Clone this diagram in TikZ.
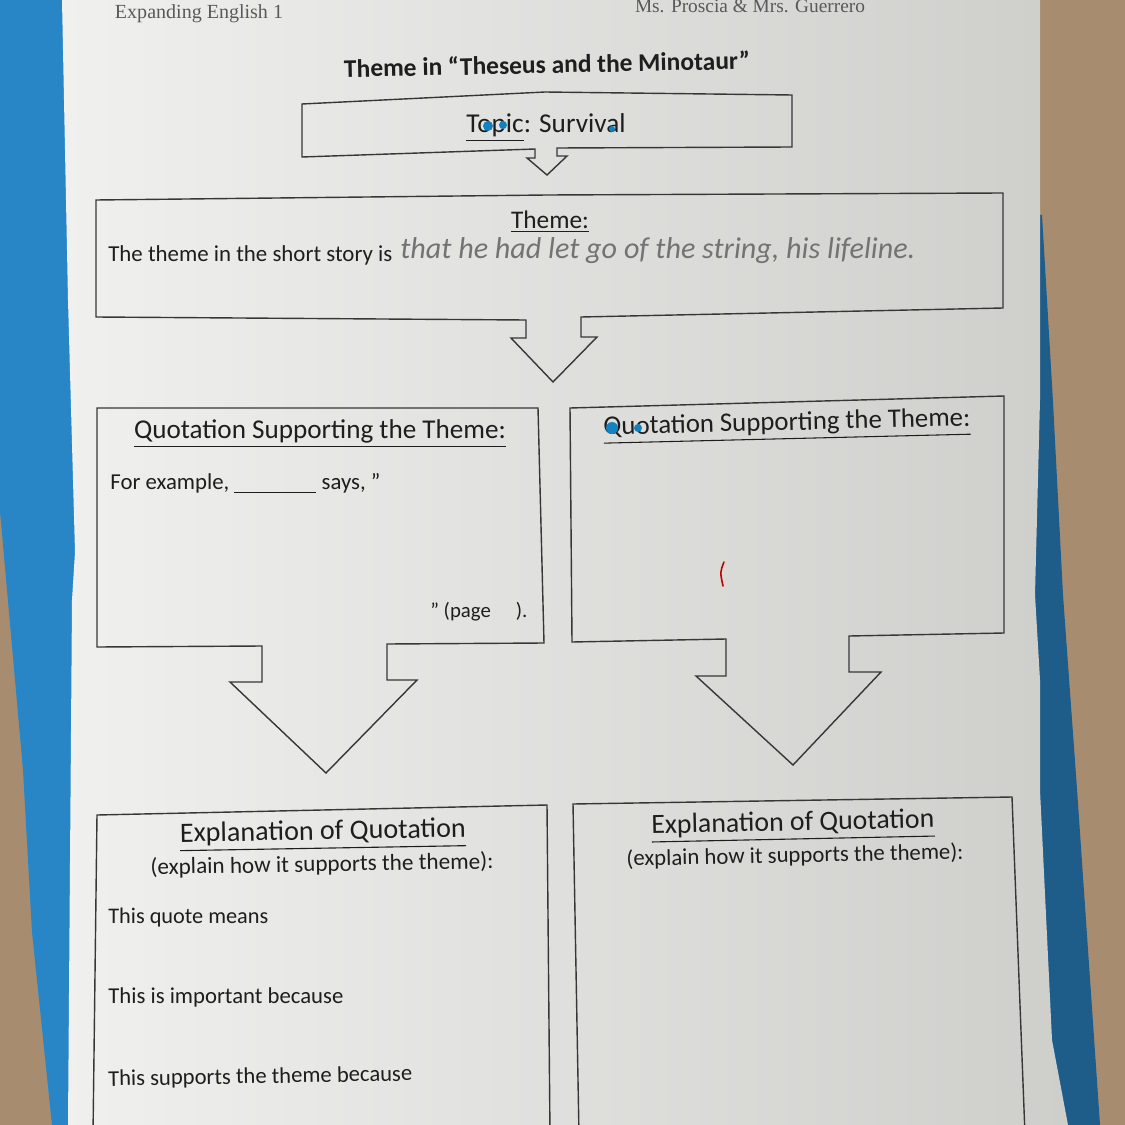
\documentclass[tikz,border=0pt]{standalone}
\usepackage{fontspec}
\usepackage{graphicx}
\setmainfont{Carlito}
\newfontfamily\hdrserif{Liberation Serif}
\newlength\pxu
\setlength\pxu{0.02cm}
\newcommand\fitw[2]{\resizebox{#1\pxu}{!}{#2}}
\definecolor{fur}{RGB}{168,140,112}
\definecolor{clothL}{RGB}{40,134,198}
\definecolor{clothR}{RGB}{30,92,138}
\definecolor{paperL}{RGB}{240,240,238}
\definecolor{paperR}{RGB}{206,206,203}
\definecolor{linec}{RGB}{55,55,55}
\definecolor{inkc}{RGB}{30,30,30}
\definecolor{pencil}{RGB}{115,115,115}
\definecolor{pen}{RGB}{20,130,190}
\tikzset{
  frame/.style={draw=linec, line width=0.8pt, line join=miter},
  txt/.style={inner sep=0pt, text=inkc},
  hdr/.style={txt, anchor=center},
  lbl/.style={txt, anchor=base west},
  dot/.style={fill=pen}
}
\begin{document}
\begin{tikzpicture}[x=0.02cm, y=-0.02cm]
\useasboundingbox (0,0) rectangle (1125,1125);
\clip (0,0) rectangle (1125,1125);
% background
\fill[fur] (0,0) rectangle (1125,1125);
\fill[clothL] (0,0) -- (80,0) -- (80,1125) -- (52,1125) -- (32,932) -- (23,770) -- (0,511) -- cycle;
\fill[clothR] (1030,215) -- (1042,215) -- (1053,402) -- (1063,595) -- (1077,789) -- (1100,1125) -- (1030,1125) -- cycle;
% paper
\shade[left color=paperL, right color=paperR]
  (62,0) -- (1040,0) -- (1040,400) -- (1035,595) -- (1040,680) -- (1040,790) -- (1052,1040) -- (1068,1125)
  -- (68,1125) -- (72,600) -- (75,552) -- (68,300) -- cycle;
% header
\node[txt, anchor=center, text=black!65] (course) at (199,14) {\fitw{168}{\hdrserif Expanding English 1}};
\node[txt, anchor=base, text=black!65] (teachers) at (750,13) {\fitw{230}{\hdrserif Ms. Proscia \& Mrs. Guerrero}};
\node[hdr, rotate=1.2] (title) at (547,64) {\fitw{406}{\bfseries Theme in “Theseus and the Minotaur”}};
% topic box
\draw[frame] (302,104) -- (545,92) -- (792,95) -- (792,147) -- (557,148) -- (557,156) -- (567,156)
  -- (547,175) -- (527,158) -- (535,158) -- (535,149) -- (302,157) -- cycle;
\node[hdr] (topic) at (546,128) {\fitw{159}{\underline{Topic}: Survival}};
\fill[dot] (488,126) circle (5);
\fill[dot] (503,125) circle (4);
\fill[dot] (612,129) circle (3);
% theme box
\draw[frame] (96,200) -- (547,195) -- (1003,193) -- (1003,308) -- (581,317) -- (581,337) -- (597,337)
  -- (553,382) -- (511,338) -- (526,338) -- (526,320) -- (96,317) -- cycle;
\node[hdr] (themehd) at (550,222) {\fitw{78}{\underline{Theme:}}};
\node[lbl] (themetxt) at (108,261) {\fitw{284}{The theme in the short story is}};
\node[lbl, text=pencil] (themehw) at (400,258) {\fitw{515}{\itshape that he had let go of the string, his lifeline.}};
% quotation left
\draw[frame] (97,408) -- (538,408) -- (544,643) -- (387,644) -- (387,680) -- (417,680) -- (326,773)
  -- (230,682) -- (262,682) -- (262,646) -- (97,647) -- cycle;
\node[hdr] (quoteLhd) at (320,434) {\fitw{372}{\underline{Quotation Supporting the Theme:}}};
\node[lbl] (example) at (110,489) {\fitw{270}{For example, \underline{\hspace{3.6em}} says, "}};
\node[lbl] (page) at (430,617) {\fitw{97}{" (page\hspace{1.2em}).}};
% quotation right
\draw[frame] (570,408) -- (1004,396) -- (1004,633) -- (849,636) -- (849,672) -- (881,672) -- (793,765)
  -- (696,676) -- (726,676) -- (726,639) -- (572,642) -- cycle;
\node[hdr, rotate=1.4] (quoteRhd) at (787,426) {\fitw{367}{\underline{Quotation Supporting the Theme:}}};
\fill[dot] (612,428) circle (6);
\fill[dot] (638,428) circle (4);
\draw[red!75!black, line width=0.9pt, line cap=round] (724,562) .. controls (720,572) .. (723,586);
% explanation left
\draw[frame] (97,815) -- (547,805) -- (550,1135) -- (93,1135) -- cycle;
\node[hdr, rotate=1] (explLhd) at (323,835) {\fitw{286}{\underline{Explanation of Quotation}}};
\node[hdr, rotate=1] (explLsub) at (322,865) {\fitw{343}{(explain how it supports the theme):}};
\node[lbl] (means) at (108,923) {\fitw{160}{This quote means}};
\node[lbl] (important) at (108,1003) {\fitw{235}{This is important because}};
\node[lbl, rotate=1] (supports) at (108,1086) {\fitw{304}{This supports the theme because}};
% explanation right
\draw[frame] (573,804) -- (1012,797) -- (1025,1135) -- (579,1135) -- cycle;
\node[hdr, rotate=1.2] (explRhd) at (793,826) {\fitw{283}{\underline{Explanation of Quotation}}};
\node[hdr, rotate=1.2] (explRsub) at (795,856) {\fitw{337}{(explain how it supports the theme):}};
\end{tikzpicture}
\end{document}
